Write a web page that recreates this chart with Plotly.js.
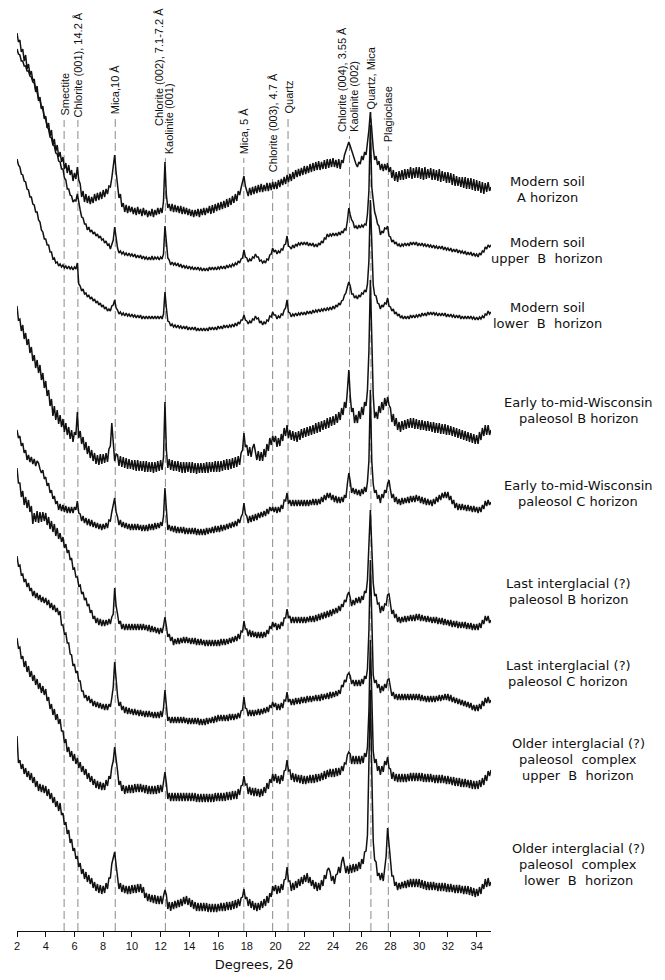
<!DOCTYPE html>
<html><head><meta charset="utf-8">
<script src="https://cdn.plot.ly/plotly-3.0.1.min.js"></script>
<style>html,body{margin:0;padding:0;background:#fff}#chart{width:665px;height:980px}</style>
</head><body><div id="chart"></div>
<script>
// 2-theta sampling positions (degrees)
const twoTheta = [
2,2.1,2.2,2.3,2.4,2.5,2.6,2.7,2.8,2.9,
3,3.1,3.2,3.3,3.4,3.5,3.6,3.7,3.8,3.9,
4,4.1,4.2,4.3,4.4,4.5,4.6,4.7,4.8,4.9,
5,5.1,5.2,5.3,5.4,5.5,5.6,5.7,5.8,5.9,
6,6.1,6.2,6.3,6.4,6.5,6.6,6.7,6.8,6.9,
7,7.1,7.2,7.3,7.4,7.5,7.6,7.7,7.8,7.9,
8,8.1,8.2,8.3,8.4,8.5,8.6,8.7,8.8,8.9,
9,9.1,9.2,9.3,9.4,9.5,9.6,9.7,9.8,9.9,
10,10.1,10.2,10.3,10.4,10.5,10.6,10.7,10.8,10.9,
11,11.1,11.2,11.3,11.4,11.5,11.6,11.7,11.8,11.9,
12,12.1,12.2,12.3,12.4,12.5,12.6,12.7,12.8,12.9,
13,13.1,13.2,13.3,13.4,13.5,13.6,13.7,13.8,13.9,
14,14.1,14.2,14.3,14.4,14.5,14.6,14.7,14.8,14.9,
15,15.1,15.2,15.3,15.4,15.5,15.6,15.7,15.8,15.9,
16,16.1,16.2,16.3,16.4,16.5,16.6,16.7,16.8,16.9,
17,17.1,17.2,17.3,17.4,17.5,17.6,17.7,17.8,17.9,
18,18.1,18.2,18.3,18.4,18.5,18.6,18.7,18.8,18.9,
19,19.1,19.2,19.3,19.4,19.5,19.6,19.7,19.8,19.9,
20,20.1,20.2,20.3,20.4,20.5,20.6,20.7,20.8,20.9,
21,21.1,21.2,21.3,21.4,21.5,21.6,21.7,21.8,21.9,
22,22.1,22.2,22.3,22.4,22.5,22.6,22.7,22.8,22.9,
23,23.1,23.2,23.3,23.4,23.5,23.6,23.7,23.8,23.9,
24,24.1,24.2,24.3,24.4,24.5,24.6,24.7,24.8,24.9,
25,25.1,25.2,25.3,25.4,25.5,25.6,25.7,25.8,25.9,
26,26.1,26.2,26.3,26.4,26.5,26.6,26.7,26.8,26.9,
27,27.1,27.2,27.3,27.4,27.5,27.6,27.7,27.8,27.9,
28,28.1,28.2,28.3,28.4,28.5,28.6,28.7,28.8,28.9,
29,29.1,29.2,29.3,29.4,29.5,29.6,29.7,29.8,29.9,
30,30.1,30.2,30.3,30.4,30.5,30.6,30.7,30.8,30.9,
31,31.1,31.2,31.3,31.4,31.5,31.6,31.7,31.8,31.9,
32,32.1,32.2,32.3,32.4,32.5,32.6,32.7,32.8,32.9,
33,33.1,33.2,33.3,33.4,33.5,33.6,33.7,33.8,33.9,
34,34.1,34.2,34.3,34.4,34.5,34.6,34.7,34.8,34.9,
35];

// Stacked (offset) intensities, arbitrary units, one array per sample (rows = 1 degree)
const modernA = [
898,889,891,879,882,870,876,862,867,856,
860,850,852,839,845,830,834,822,825,812,
815,803,808,795,801,786,792,780,786,774,
779,769,774,762,768,758,766,756,761,750,
758,752,764,751,747,734,740,729,737,728,
735,727,734,728,737,730,738,731,739,732,
741,734,742,737,745,744,753,763,776,759,
744,733,737,724,728,719,726,718,725,719,
724,717,723,716,724,717,722,715,723,716,
721,714,720,715,722,714,721,716,723,717,
723,718,730,769,736,723,727,720,727,719,
726,719,725,718,725,717,724,717,723,716,
722,715,721,714,721,715,722,714,722,716,
723,716,723,718,725,717,726,718,727,720,
728,721,729,722,730,723,732,724,733,726,
735,728,737,730,740,736,743,748,755,745,
741,735,743,736,744,737,745,738,746,739,
747,739,746,740,748,740,748,741,749,742,
749,742,751,744,752,746,754,747,756,749,
757,750,759,752,761,754,762,755,763,756,
765,757,765,758,767,759,768,760,769,761,
770,761,769,762,771,762,772,763,772,764,
773,764,771,763,772,762,771,768,776,780,
786,789,785,780,775,770,767,764,769,767,
775,771,779,776,787,801,819,799,783,771,
775,766,770,761,767,760,767,761,768,759,
764,753,761,750,759,749,760,751,761,751,
762,752,762,753,764,752,763,753,764,753,
764,752,763,751,764,752,762,753,763,751,
762,751,761,750,762,749,760,750,759,748,
759,748,758,746,757,745,755,745,754,744,
754,743,754,742,753,742,753,741,752,740,
751,740,750,738,749,737,748,739,749,740,
744];

const modernUpperB = [
882,877,876,870,870,865,865,860,860,855,
854,849,848,841,839,832,831,823,822,814,
812,804,802,794,793,786,785,778,777,770,
769,762,762,753,751,742,742,736,735,729,
731,730,737,727,721,714,713,707,707,701,
704,699,701,697,699,695,697,693,695,691,
692,688,690,686,687,682,687,691,704,691,
683,678,680,677,679,676,678,675,678,675,
677,674,677,673,676,673,676,672,675,672,
674,671,674,671,675,671,674,672,674,671,
674,672,677,705,689,673,671,666,669,666,
668,665,668,664,667,663,666,663,665,662,
665,662,664,661,664,661,664,661,663,660,
663,660,663,660,664,661,664,661,664,661,
664,662,665,662,665,662,666,663,666,664,
667,665,668,666,670,668,672,673,681,674,
673,669,672,670,674,673,677,674,674,670,
671,668,670,668,672,671,676,677,683,679,
681,677,680,678,682,681,686,687,695,685,
684,682,686,683,687,685,688,686,689,686,
689,686,689,685,688,685,688,684,687,684,
688,686,690,688,693,692,697,694,697,695,
698,695,698,695,699,696,700,698,702,701,
710,723,716,711,709,703,705,702,706,703,
706,704,707,706,717,740,806,744,731,719,
714,707,705,696,700,698,703,702,705,695,
694,689,691,687,689,685,687,684,687,685,
688,685,688,685,689,686,689,686,689,685,
688,685,688,685,687,684,687,684,686,683,
686,683,685,682,685,682,685,681,684,681,
683,680,683,679,682,679,682,678,681,678,
680,677,680,676,679,676,679,675,678,675,
677,674,678,676,680,679,684,682,686,684,
686];

const modernLowerB = [
772,766,764,757,756,750,749,742,741,734,
734,727,726,719,719,711,709,701,699,692,
692,686,686,679,679,672,673,668,669,665,
667,664,666,663,665,662,665,662,664,661,
664,662,668,647,645,640,642,637,638,634,
636,632,634,630,632,628,630,626,628,624,
626,622,624,620,622,620,625,626,631,623,
621,617,619,616,618,615,618,615,617,614,
617,614,616,613,616,613,616,612,615,612,
615,612,615,612,615,612,615,612,615,612,
615,612,617,639,623,610,609,605,607,604,
606,603,606,603,605,602,605,602,605,601,
604,601,604,601,604,600,603,600,603,600,
603,600,603,600,604,601,604,601,604,601,
605,602,605,602,606,603,606,603,606,604,
607,604,608,605,609,607,611,611,616,611,
610,607,610,608,612,611,615,612,613,608,
610,606,609,607,611,610,615,614,619,616,
616,612,615,613,617,616,621,623,631,619,
618,614,617,615,618,615,618,616,619,616,
619,616,620,617,620,617,621,618,621,619,
622,619,622,620,623,620,623,621,624,621,
625,622,626,624,628,626,630,631,636,638,
644,649,645,637,637,633,635,632,636,634,
638,637,641,639,647,670,731,674,646,636,
635,628,627,622,626,624,628,627,633,625,
624,620,622,617,619,615,617,613,615,612,
615,612,615,612,616,613,616,613,616,614,
617,614,618,615,618,615,619,616,619,616,
619,616,618,615,618,615,618,615,618,614,
617,614,617,614,616,613,616,613,616,612,
615,612,615,612,615,612,615,612,614,611,
614,611,614,612,615,613,617,616,620,617,
619];

const wisconsinB = [
625,611,612,600,606,592,598,586,592,578,
584,570,576,563,571,558,566,551,558,543,
550,535,541,525,532,515,525,511,521,507,
516,504,512,499,508,496,504,492,501,489,
499,496,519,493,500,487,494,481,489,477,
485,473,481,470,478,467,476,466,477,467,
477,468,478,469,482,485,508,487,470,477,
476,465,475,464,474,463,473,462,472,462,
471,461,471,460,471,460,470,460,470,459,
470,459,469,459,469,458,469,459,470,460,
471,461,474,529,481,463,472,461,471,460,
470,460,470,459,469,458,469,458,469,459,
469,458,469,458,468,457,468,458,468,458,
468,458,469,458,469,459,469,459,470,459,
470,459,470,460,471,461,472,461,472,462,
473,463,474,464,475,466,478,481,498,484,
486,475,484,474,483,487,480,471,480,470,
479,470,482,474,487,480,493,486,495,489,
495,484,493,485,497,490,503,495,506,493,
501,491,500,490,499,489,500,491,502,493,
503,494,504,495,505,496,506,497,508,498,
509,499,510,501,511,502,513,503,514,505,
515,506,517,508,519,511,523,516,529,523,
540,561,535,519,523,508,516,508,520,512,
524,516,529,525,541,580,651,575,536,513,
519,512,525,518,529,521,533,525,534,526,
523,509,517,505,513,501,509,499,510,501,
511,502,512,503,513,503,513,502,512,502,
511,501,511,501,510,500,510,500,509,499,
509,498,508,498,508,497,507,497,507,496,
506,496,505,495,504,494,503,493,502,492,
501,491,500,490,499,489,498,488,497,487,
496,487,499,491,503,495,506,496,506,496,
501];

const wisconsinC = [
501,493,495,485,488,478,481,471,476,469,
474,467,472,465,470,468,462,458,461,452,
454,445,448,438,441,432,435,427,430,421,
427,420,426,419,425,418,424,418,424,418,
424,421,430,418,417,410,415,408,413,406,
412,405,411,404,409,403,408,402,407,401,
407,402,408,403,411,410,419,425,433,419,
414,406,411,404,409,403,408,402,407,401,
407,401,407,401,407,401,406,400,406,400,
406,400,407,401,407,401,408,402,408,403,
409,405,415,443,421,401,406,400,405,399,
405,398,404,398,404,398,404,397,403,397,
403,397,403,397,403,396,402,396,402,396,
402,396,403,397,403,398,404,398,405,399,
405,399,406,400,406,401,407,402,408,403,
409,404,410,405,412,408,414,417,428,417,
415,408,415,409,416,410,417,411,418,413,
419,414,420,415,422,417,424,420,424,419,
424,418,424,419,426,422,431,430,438,427,
431,425,431,425,431,425,431,425,431,425,
431,425,431,425,431,426,432,426,432,426,
432,427,434,429,436,431,438,433,438,431,
436,429,435,428,434,428,434,429,436,433,
447,458,450,438,443,437,442,436,441,435,
442,437,444,439,449,470,541,470,447,438,
441,432,436,428,437,433,441,438,447,451,
441,433,437,429,434,427,432,426,433,427,
433,428,434,428,435,429,435,429,436,430,
435,428,434,427,433,426,432,426,431,425,
432,427,434,429,436,431,438,433,439,433,
439,431,435,427,431,423,428,421,427,421,
427,421,426,420,426,420,425,419,425,419,
424,418,424,419,426,422,430,425,431,426,
429];

const lastIgB = [
463,448,448,434,440,426,434,423,431,419,
425,407,418,409,420,408,419,409,419,410,
418,406,414,402,410,399,407,395,403,392,
398,389,394,383,387,378,381,371,373,362,
363,354,354,345,346,337,339,331,333,325,
327,318,321,312,315,308,313,306,312,305,
311,305,311,306,312,307,314,317,343,325,
317,307,310,302,307,301,307,301,307,301,
307,301,307,301,307,301,307,301,307,301,
306,300,306,299,305,299,304,298,303,297,
303,298,305,314,305,294,297,290,294,286,
292,287,293,287,293,288,294,288,294,288,
293,287,293,287,293,286,292,286,292,286,
291,285,291,285,291,285,291,285,291,285,
291,285,292,286,292,286,292,287,293,288,
294,289,295,290,297,292,300,299,310,302,
302,295,301,294,300,294,299,293,299,293,
299,293,299,294,301,297,305,302,309,304,
308,301,307,302,309,305,313,313,322,313,
315,308,314,308,314,308,314,308,314,308,
314,308,314,309,315,309,315,309,316,310,
317,311,318,312,319,313,320,314,321,315,
322,317,323,318,325,320,327,324,331,329,
336,339,333,325,331,326,333,328,334,328,
335,331,340,338,351,380,421,384,348,335,
337,327,328,318,325,320,327,326,336,337,
329,317,321,313,317,309,314,308,314,309,
315,309,315,310,316,310,316,310,317,311,
317,310,316,310,315,309,315,309,314,308,
314,308,314,307,313,307,313,306,312,306,
311,305,311,304,310,304,310,303,309,303,
309,303,309,302,308,302,308,301,307,301,
307,301,308,303,311,307,315,310,315,308,
311];

const lastIgC = [
375,365,366,356,357,349,352,344,348,340,
343,335,340,333,338,331,336,329,334,328,
333,326,331,323,328,321,326,319,323,316,
320,306,306,297,298,288,288,277,276,265,
267,258,260,250,250,240,240,233,236,230,
235,228,232,225,230,224,229,223,228,222,
227,221,227,221,227,224,233,244,269,249,
235,225,229,221,225,218,224,217,223,217,
222,216,222,216,221,215,221,215,220,214,
220,214,220,214,219,213,219,213,219,213,
220,214,223,241,226,210,214,208,214,208,
214,208,214,208,214,208,214,208,213,207,
213,207,213,207,213,207,213,206,212,206,
212,206,213,207,213,208,214,208,215,209,
216,210,216,210,216,210,216,210,217,211,
217,211,217,212,218,213,220,221,234,223,
222,215,221,215,221,215,221,216,222,216,
222,217,223,218,224,219,226,223,229,224,
228,221,227,221,228,223,231,230,239,229,
232,226,232,226,233,227,233,227,234,228,
234,228,235,229,235,229,235,230,236,230,
236,230,237,231,237,232,238,232,239,233,
239,234,240,235,241,237,246,244,251,249,
256,258,255,247,251,245,251,245,251,245,
252,247,255,252,262,300,371,299,256,248,
251,243,247,238,245,240,247,243,251,252,
245,235,239,232,237,231,237,231,237,231,
237,231,237,231,237,231,237,231,237,231,
237,230,236,230,235,229,235,229,235,229,
235,229,235,230,236,230,236,231,237,231,
237,230,236,229,234,228,233,227,232,226,
231,225,230,224,229,223,228,221,226,220,
226,220,227,222,230,225,233,228,234,228,
231];

const olderUpperB = [
293,283,284,272,275,264,270,259,265,254,
260,250,256,246,252,242,248,238,245,236,
242,230,234,222,227,216,222,211,217,207,
212,200,200,188,192,179,184,174,180,170,
177,167,173,163,169,159,165,156,162,152,
158,149,155,146,152,143,150,142,149,141,
148,141,151,145,155,152,164,170,184,168,
160,146,150,140,146,137,145,138,146,138,
146,138,147,139,147,139,147,139,146,138,
146,137,145,137,145,137,145,137,146,138,
146,139,148,159,148,132,138,130,138,130,
138,130,138,130,138,130,138,130,138,130,
138,130,138,130,138,129,137,129,137,129,
137,129,137,129,137,129,137,129,138,130,
138,130,138,130,138,130,139,131,139,131,
140,132,140,132,142,136,145,146,155,146,
147,137,144,136,143,135,143,135,142,134,
142,135,144,138,148,142,152,148,157,150,
157,148,155,147,156,150,160,161,171,160,
161,151,158,149,157,149,156,148,156,147,
155,147,155,148,156,148,156,148,157,149,
157,150,158,151,160,152,161,154,162,154,
162,154,163,155,163,156,165,160,168,167,
176,179,177,167,175,167,175,167,175,167,
175,168,178,174,184,220,291,229,180,168,
172,160,165,156,165,159,170,166,174,163,
162,152,159,150,157,149,157,149,157,149,
157,149,157,150,158,150,158,150,158,150,
158,150,158,149,157,149,157,149,157,149,
156,148,156,148,156,148,156,148,155,147,
155,147,154,146,154,145,153,145,153,144,
152,144,152,144,151,143,151,142,150,142,
150,142,151,144,153,146,156,150,160,155,
161];

const olderLowerB = [
195,168,171,162,167,157,163,154,160,151,
158,148,154,144,150,140,147,139,146,138,
145,135,142,132,138,128,134,124,130,120,
128,116,118,106,109,97,101,88,92,80,
83,72,75,64,68,57,62,52,59,49,
56,47,53,43,49,40,47,38,46,37,
45,38,48,42,53,53,67,74,79,66,
56,42,48,39,46,38,45,37,45,37,
46,38,46,38,47,39,47,38,44,33,
38,30,37,29,36,28,36,27,35,27,
35,27,35,41,36,22,29,20,29,22,
30,23,31,24,32,25,34,27,35,26,
33,24,31,22,29,20,28,20,28,20,
28,20,28,19,27,19,27,19,27,19,
27,20,28,20,28,20,29,21,29,21,
30,22,31,23,32,25,33,34,42,32,
34,25,32,23,30,21,28,20,28,21,
30,23,32,25,35,28,38,34,45,40,
46,37,45,38,47,41,51,52,64,50,
50,40,48,41,50,43,52,45,54,47,
56,49,58,48,54,45,51,42,49,40,
48,41,51,45,56,52,61,63,59,50,
55,47,56,57,64,58,69,74,66,58,
65,57,66,58,67,59,67,60,69,62,
72,67,79,80,96,160,241,159,90,71,
69,55,58,51,58,50,60,75,103,84,
75,55,55,45,49,41,48,42,49,43,
50,43,51,44,52,44,52,44,52,44,
52,43,51,42,50,41,49,41,49,41,
49,41,48,40,48,40,48,40,48,39,
47,39,47,39,46,38,46,38,46,38,
45,37,45,37,45,36,44,35,43,34,
42,35,44,37,47,42,52,44,53,45,
49];

// Sample names (right-hand labels), one array of lines per sample
const sampleLabels = [
  ["Modern soil", "A horizon"],
  ["Modern soil", "upper\u00a0 B\u00a0 horizon"],
  ["Modern soil", "lower\u00a0 B\u00a0 horizon"],
  ["Early to-mid-Wisconsin", "paleosol B horizon"],
  ["Early to-mid-Wisconsin", "paleosol C horizon"],
  ["Last interglacial (?)", "paleosol B horizon"],
  ["Last interglacial (?)", "paleosol C horizon"],
  ["Older interglacial (?)", "paleosol\u00a0 complex", "upper\u00a0 B\u00a0 horizon"],
  ["Older interglacial (?)", "paleosol\u00a0 complex", "lower\u00a0 B\u00a0 horizon"]
];

// Reflection positions (2-theta) and their mineral labels
const peakPositions = [5.28, 6.24, 8.84, 12.33, 17.79, 19.8, 20.87, 25.15, 26.64, 27.85];
const peakLabels = [
  ["Smectite"],
  ["Chlorite (001), 14.2 \u00c5"],
  ["Mica,10 \u00c5"],
  ["Chlorite (002), 7.1-7.2 \u00c5", "Kaolinite (001)"],
  ["Mica, 5 \u00c5"],
  ["Chlorite (003), 4.7 \u00c5"],
  ["Quartz"],
  ["Chlorite (004), 3.55 \u00c5", "Kaolinite (002)"],
  ["Quartz, Mica"],
  ["Plagioclase"]
];

const tickValues = [2,4,6,8,10,12,14,16,18,20,22,24,26,28,30,32,34];

// ---------------- layout / drawing ----------------
const series = [modernA, modernUpperB, modernLowerB, wisconsinB, wisconsinC, lastIgB, lastIgC, olderUpperB, olderLowerB];

const traces = series.map((ys, i) => ({
  x: twoTheta, y: ys, type: 'scatter', mode: 'lines',
  line: {color: '#111', width: 1.5}, hoverinfo: 'skip', showlegend: false,
  name: sampleLabels[i].join(' ')
}));

const H = 931; // plot height in px
const py = p => H - p; // pixel row -> y-axis value

// layout positions for the reflection labels (pixel rows in the figure)
const peakLayout = [
  {lineTop: 120, lab: [{dx: 0, bottom: 117}]},
  {lineTop: 120, lab: [{dx: 0, bottom: 118}]},
  {lineTop: 117, lab: [{dx: 0, bottom: 115}]},
  {lineTop: 158, lab: [{dx: -0.45, bottom: 127}, {dx: 0.24, bottom: 155}]},
  {lineTop: 158, lab: [{dx: 0, bottom: 155}]},
  {lineTop: 175, lab: [{dx: 0, bottom: 173}]},
  {lineTop: 117, lab: [{dx: 0, bottom: 115}]},
  {lineTop: 136, lab: [{dx: -0.55, bottom: 133}, {dx: 0.27, bottom: 133}]},
  {lineTop: 112, lab: [{dx: 0, bottom: 110}]},
  {lineTop: 146, lab: [{dx: 0, bottom: 143}]}
];

const shapes = [];
const annotations = [];
const topFont = {family: 'Liberation Sans, Arial, sans-serif', size: 11, color: '#111'};
peakPositions.forEach((p, i) => {
  const L = peakLayout[i];
  shapes.push({type: 'line', xref: 'x', yref: 'y', x0: p, x1: p, y0: 0, y1: py(L.lineTop),
    line: {color: '#8a8a8a', width: 1, dash: '8px,4px'}, layer: 'below'});
  peakLabels[i].forEach((t, j) => {
    annotations.push({xref: 'x', yref: 'y', x: p + L.lab[j].dx, y: py(L.lab[j].bottom),
      text: t, textangle: -90, showarrow: false, xanchor: 'center', yanchor: 'bottom',
      font: topFont, borderpad: 0});
  });
});

// right-hand sample labels: [center x px, first line y px]
const labelPos = [[547,181],[547,242],[547,307],[578,402],[578,485],[568,583],[568,665],[578,743],[578,848]];
const rightFont = {family: 'DejaVu Sans, sans-serif', size: 13, color: '#111'};
sampleLabels.forEach((lines, i) => {
  lines.forEach((t, j) => {
    annotations.push({xref: 'paper', yref: 'y', x: (labelPos[i][0] - 17) / 474, y: py(labelPos[i][1] + 16 * j),
      text: t, showarrow: false, xanchor: 'center', yanchor: 'middle', font: rightFont, borderpad: 0});
  });
});

const layout = {
  width: 665, height: 980,
  margin: {l: 17, r: 174, t: 0, b: 49},
  paper_bgcolor: '#fff', plot_bgcolor: '#fff',
  showlegend: false,
  xaxis: {
    range: [2, 35], tickvals: tickValues, ticktext: tickValues.map(String),
    ticks: 'outside', ticklen: 5, tickwidth: 1, tickcolor: '#111',
    showline: true, linecolor: '#111', linewidth: 1.2,
    showgrid: false, zeroline: false,
    tickfont: {family: 'Liberation Sans, Arial, sans-serif', size: 11, color: '#111'},
    title: {text: 'Degrees, 2\u03b8', font: {family: 'DejaVu Sans, sans-serif', size: 13, color: '#111'}, standoff: 8}
  },
  yaxis: {range: [0, H], visible: false, fixedrange: true},
  shapes: shapes,
  annotations: annotations
};

Plotly.newPlot('chart', traces, layout, {displayModeBar: false, staticPlot: true});
</script>
</body></html>
